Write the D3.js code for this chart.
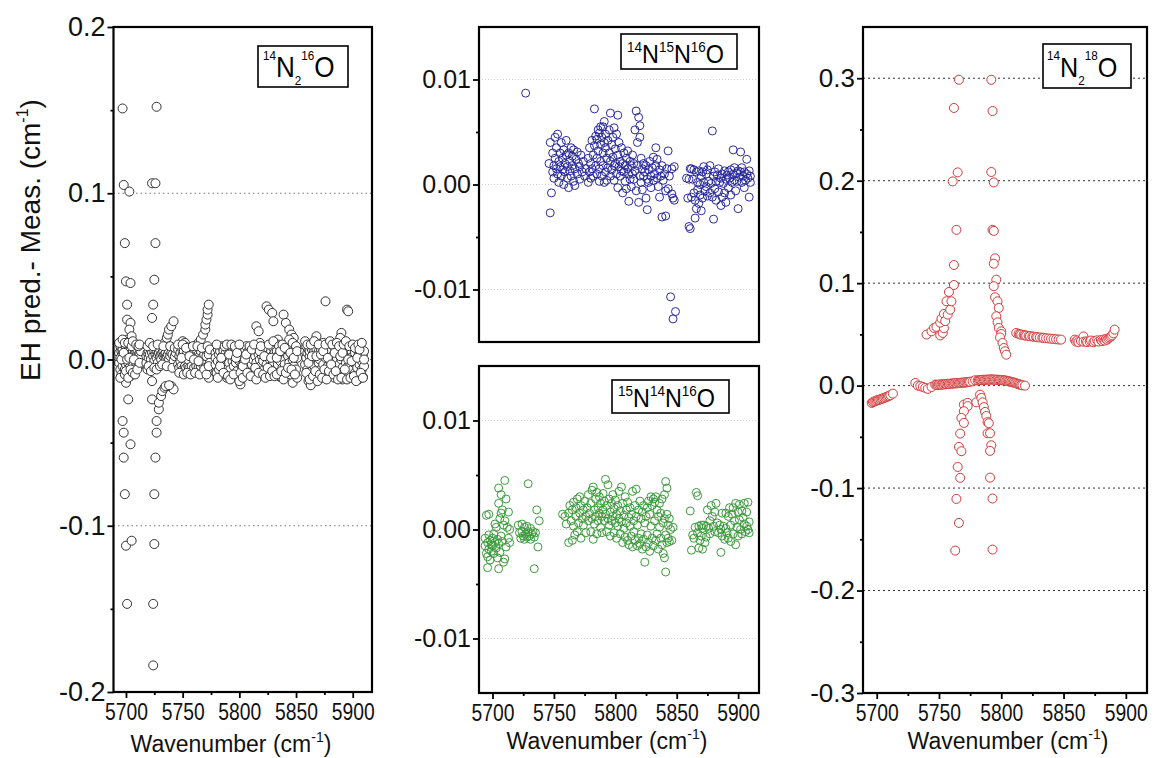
<!DOCTYPE html>
<html><head><meta charset="utf-8">
<script src="https://cdn.jsdelivr.net/npm/d3@7"></script>
<style>body{margin:0;background:#fff;} svg{display:block;font-family:Arial,"Liberation Sans",sans-serif;}</style>
</head><body><svg id="c" width="1154" height="758"></svg>
<script>
// ---------- shared axis values ----------
const xDomain = [5689, 5917];
const xTicks = [5700, 5750, 5800, 5850, 5900];
const xMinorTicks = [5725, 5775, 5825, 5875];
const xTitle = "Wavenumber (cm";
const yTitle = "EH pred.- Meas. (cm";

// panel 1: 14N2 16O
const p1YTicks = [-0.2, -0.1, 0, 0.1, 0.2];
const p1YLabels = ["-0.2", "-0.1", "0.0", "0.1", "0.2"];
const p1YMinor = [-0.15, -0.05, 0.05, 0.15];
const p1Grid = [-0.1, 0, 0.1];
// panels 2/3
const pmYTicks = [-0.01, 0, 0.01];
const pmYLabels = ["-0.01", "0.00", "0.01"];
const pmYMinor = [-0.005, 0.005];
const pmGrid = [-0.01, 0, 0.01];
// panel 4: 14N2 18O
const p4YTicks = [-0.3, -0.2, -0.1, 0, 0.1, 0.2, 0.3];
const p4YLabels = ["-0.3", "-0.2", "-0.1", "0.0", "0.1", "0.2", "0.3"];
const p4YMinor = [-0.25, -0.15, -0.05, 0.05, 0.15, 0.25];
const p4Grid = [-0.2, -0.1, 0, 0.1, 0.2, 0.3];

const labels = {
  p1: [["14","sup"],["N","n"],["2","sub"],["16","sup"],["O","n"]],
  p2: [["14","sup"],["N","n"],["15","sup"],["N","n"],["16","sup"],["O","n"]],
  p3: [["15","sup"],["N","n"],["14","sup"],["N","n"],["16","sup"],["O","n"]],
  p4: [["14","sup"],["N","n"],["2","sub"],["18","sup"],["O","n"]]
};

// ---------- data: [wavenumber, EH pred. - meas.] ----------
const n2o_14_16 = [
[5697,.151],[5727,.152],[5698,.105],[5703,.101],[5723,.106],[5726,.106],[5699,.070],[5726,.070],[5700,.047],[5704,.046],[5725,.048],[5701,.033],[5724,.033],[5723,.025],[5701,.024],[5704,.022],[5703,.018],
[5732,.007],[5734,.010],[5736,.013],[5737,.015],[5738,.018],[5740,.020],[5742,.023],
[5757,.006],[5761,.008],[5764,.010],[5766,.012],[5768,.015],[5770,.018],[5770,.021],[5771,.024],[5772,.027],[5772,.030],[5773,.033],
[5750,.011],[5752,.010],
[5815,.020],[5817,.017],[5824,.032],[5826,.030],[5829,.028],[5830,.023],[5839,.027],[5841,.022],[5844,.018],[5846,.015],[5848,.013],[5834,.012],[5831,.008],
[5876,.035],[5895,.030],[5896,.029],[5890,.016],[5889,.013],[5868,.014],
[5702,-.024],[5697,-.037],[5698,-.044],[5704,-.051],[5698,-.059],[5699,-.081],[5700,-.112],[5705,-.109],[5701,-.147],
[5723,-.013],[5723,-.024],[5727,-.037],[5727,-.044],[5726,-.059],[5725,-.081],[5725,-.111],[5724,-.147],[5724,-.184],
[5729,-.030],[5729,-.026],[5731,-.022],[5732,-.019],[5734,-.017],[5737,-.016],[5740,-.016],[5742,-.018],[5735,-.016],[5738,-.0155],
[5773,-.011],[5801,-.015],[5836,-.0105],[5847,-.014],[5861,-.013],[5863,-.0155],[5909,-.0105],[5905,-.012],[5891,-.012],[5880,-.009],[5789,-.011],
[5694,.004],[5694,-.002],[5695,.008],[5695,-.006],[5695,.001],[5696,.005],[5696,-.009],[5696,.011],[5697,.003],[5697,-.004],[5697,.006],[5698,-.001],[5698,.009],[5698,-.011],[5699,.004],[5699,.000],[5699,-.006],[5700,.007],[5700,.002],[5700,-.003],[5700,-.014],[5701,.005],[5701,-.008],[5701,.012],[5702,.003],[5702,-.002],[5702,.006],[5703,.004],[5703,-.005],[5703,.009],[5704,.002],[5704,.006],[5704,-.010],[5705,.004],[5705,-.001],[5705,.014],[5706,.005],[5706,-.003],[5707,.003],[5707,.008],[5707,-.006],[5708,.004],[5708,.001],[5709,.005],[5709,-.002],[5710,.003],[5710,.006],[5711,.002],[5711,-.004],[5712,.004],[5713,.001],[5713,.005],
[5694,.010],[5695,-.011],[5696,.000],[5697,.012],[5698,.004],[5699,-.009],[5699,.010],[5700,-.007],[5701,.000],[5702,-.011],[5702,.010],[5703,.001],[5704,-.006],[5705,.008],[5706,-.008],[5706,.011],[5707,.000],[5708,-.009],[5709,.009],[5710,-.006],[5711,.008],[5712,-.002],[5712,.009],
[5718,.002],[5718,-.002],[5719,.004],[5719,-.006],[5720,.001],[5720,.005],[5721,.003],[5721,-.003],[5722,.006],[5722,.000],[5723,.004],[5723,-.004],[5724,.002],[5725,.005],[5725,-.001],[5726,.003],[5726,.008],[5727,.001],[5727,.005],[5728,.003],[5728,-.002],[5729,.004],[5730,.002],[5730,.006],[5731,.003],[5731,.000],[5732,.004],[5733,.002],[5733,.005],[5734,.003],[5735,.001],[5735,.004],[5736,.002],[5737,.003],[5738,.005],[5738,.000],[5739,.002],[5740,.004],[5741,.003],[5742,-.001],[5743,.002],[5744,.004],
[5719,.008],[5720,-.004],[5721,.010],[5722,-.007],[5724,.008],[5725,-.005],[5727,-.006],[5728,.009],[5730,-.004],[5732,-.003],[5733,.008],[5736,-.004],[5739,.008],[5741,-.005],[5743,.007],
[5746,.006],[5746,-.003],[5747,.002],[5747,-.005],[5748,.004],[5748,-.001],[5749,.007],[5749,-.004],[5750,.003],[5750,-.006],[5751,.001],[5751,.005],[5752,-.004],[5752,.008],[5753,.002],[5753,-.005],[5754,.004],[5755,-.004],[5755,.000],[5756,.006],[5756,-.005],[5757,.002],[5758,-.004],[5758,.005],[5759,.001],[5760,-.005],[5760,.004],[5761,.002],[5762,-.004],[5762,.006],[5763,.000],[5764,-.005],[5764,.003],[5765,.002],[5766,-.004],[5766,.005],[5767,.001],[5768,-.003],[5768,-.008],[5769,.003],[5770,-.005],[5770,.006],[5771,.002],[5772,-.006],[5773,.003],[5774,-.002],
[5746,.009],[5747,-.008],[5749,.001],[5750,.009],[5751,-.009],[5753,.007],[5754,-.008],[5756,.002],[5757,-.009],[5759,.008],[5760,.000],[5761,-.008],[5763,.008],[5764,-.001],[5765,-.009],[5767,.007],[5769,-.006],[5771,-.009],[5772,.008],[5773,-.004],[5774,.006],
[5779,.004],[5779,-.003],[5779,.001],[5780,-.008],[5781,.006],[5781,-.001],[5782,.003],[5782,-.006],[5783,.005],[5784,-.002],[5784,.008],[5785,.002],[5785,-.005],[5786,.005],[5787,-.001],[5787,-.009],[5788,.004],[5788,.001],[5789,-.004],[5790,.006],[5790,.002],[5791,-.002],[5792,.005],[5792,-.006],[5793,.003],[5794,-.001],[5794,.007],[5795,.004],[5795,-.004],[5796,.001],[5797,.005],[5797,-.002],[5798,-.007],[5799,.003],[5799,.006],[5800,-.001],[5800,-.013],[5801,.004],[5802,.001],[5802,-.004],[5803,.006],[5804,.002],[5804,-.002],[5805,.005],[5806,-.005],[5806,.008],[5807,.003],[5808,-.001],[5808,.005],[5809,-.006],[5810,.002],[5810,.006],[5811,-.003],[5812,.004],[5812,.000],[5813,-.008],[5814,.005],[5814,.002],[5815,-.002],[5816,.006],[5816,-.005],[5817,.003],[5818,.000],[5818,.010],[5819,-.004],[5820,.005],[5820,.002],[5821,-.001],[5822,.007],[5822,-.006],[5823,.004],[5824,.001],[5824,-.003],[5825,.006],[5826,-.008],[5826,.003],[5827,.000],[5828,.005],[5828,-.004],[5829,.002],[5830,.007],[5830,-.002],[5831,.004],[5832,-.006],[5832,.001],[5833,.005],[5834,-.003],[5834,.009],[5835,.003],[5836,-.001],[5836,-.010],[5837,.005],[5838,.002],[5838,-.005],[5839,.006],[5840,.000],[5840,-.003],[5841,.004],[5842,.008],[5842,-.007],[5843,.002],[5844,.005],[5844,-.002],[5845,-.009],[5846,.003],[5846,.007],[5847,.000],[5848,-.004],[5848,.005],[5849,.002],[5850,-.006],[5850,.004],[5851,.001],[5851,-.011],
[5780,.009],[5781,-.011],[5783,-.004],[5784,.001],[5786,-.008],[5787,.008],[5789,.009],[5790,-.010],[5791,.003],[5792,-.012],[5793,.009],[5795,-.009],[5796,.008],[5797,.001],[5798,.004],[5800,.009],[5801,-.008],[5803,-.004],[5803,-.011],[5805,.000],[5806,.003],[5807,-.008],[5809,.008],[5810,-.010],[5811,.006],[5813,.009],[5814,-.005],[5815,-.012],[5817,-.008],[5818,.005],[5819,.008],[5821,-.009],[5822,.002],[5823,-.011],[5825,-.005],[5826,.009],[5827,-.010],[5828,.001],[5829,-.007],[5830,.011],[5831,-.010],[5833,-.009],[5833,.001],[5835,.008],[5836,.005],[5837,-.007],[5838,.009],[5839,-.012],[5840,.007],[5841,-.008],[5843,-.005],[5844,.012],[5845,.004],[5846,-.006],[5847,.010],[5848,.001],[5849,-.009],[5850,.008],[5851,.005],
[5858,.005],[5858,-.003],[5859,.008],[5859,.001],[5860,-.006],[5860,.004],[5861,.006],[5861,-.009],[5862,.002],[5862,.005],[5863,-.002],[5864,.006],[5864,-.007],[5865,.003],[5866,.005],[5866,-.004],[5867,.001],[5868,.006],[5868,-.011],[5869,.003],[5870,-.002],[5870,.005],[5871,.000],[5872,.006],[5872,-.006],[5873,.003],[5874,-.003],[5874,.010],[5875,.005],[5876,-.008],[5876,.001],[5877,.004],[5878,-.004],[5878,.007],[5879,.002],[5880,-.001],[5880,-.009],[5881,.005],[5882,-.005],[5882,.002],[5883,.008],[5884,-.002],[5884,-.011],[5885,.004],[5886,-.006],[5886,.001],[5887,.006],[5888,-.003],[5888,.003],[5889,-.008],[5890,.000],[5890,.007],[5891,-.005],[5892,.003],[5892,-.010],[5893,.005],[5894,-.002],[5894,-.007],[5895,.002],[5896,-.004],[5896,.006],[5897,-.009],[5898,.001],[5898,-.003],[5899,.005],[5900,-.006],[5900,.002],[5901,-.002],[5902,.004],[5902,-.008],[5903,.000],[5904,-.005],[5904,.006],[5905,.002],[5906,-.003],[5906,-.010],[5907,.004],[5908,-.001],[5908,-.006],[5909,.003],[5910,-.004],[5910,.005],
[5858,.011],[5859,-.008],[5860,.009],[5861,-.002],[5862,-.012],[5863,.009],[5864,.002],[5865,-.010],[5866,.011],[5867,-.007],[5868,.002],[5869,-.013],[5870,.009],[5871,-.009],[5872,.003],[5873,-.011],[5874,.005],[5875,-.006],[5876,.009],[5877,-.012],[5878,.001],[5879,-.007],[5880,.011],[5881,-.003],[5882,.009],[5883,-.009],[5884,.004],[5885,-.007],[5886,.010],[5887,-.012],[5888,.008],[5889,.002],[5890,-.011],[5891,.004],[5892,.009],[5893,-.006],[5894,.011],[5895,-.012],[5896,.000],[5897,.008],[5898,-.011],[5899,-.001],[5900,.009],[5901,-.010],[5902,.007],[5903,-.013],[5904,.001],[5905,.009],[5906,.006],[5907,-.008],[5908,.010],[5909,-.011],[5910,.000]
];

const n2o_14_15_16 = [
[5727,.0087],
[5747,-.0027],[5748,-.0008],[5746,.0020],[5747,.0040],[5749,.0012],[5749,.0030],[5750,.0018],[5750,.0006],[5751,.0025],[5751,.0045],[5752,.0015],[5752,.0035],[5753,.0010],[5753,.0048],[5754,.0022],[5754,.0002],[5755,.0030],[5755,.0017],[5756,.0040],[5756,.0008],[5757,.0025],[5757,.0014],[5758,.0000],[5758,.0033],[5759,.0020],[5759,.0012],[5760,.0042],[5760,.0028],[5761,.0017],[5761,.0006],[5762,.0030],[5762,-.0003],[5763,.0022],[5763,.0013],[5764,.0035],[5764,.0008],[5765,.0018],[5765,.0027],[5766,.0003],[5766,.0033],[5767,.0015],[5767,-.0001],[5768,.0024],[5769,.0010],[5769,.0031],[5770,.0020],[5771,.0005],[5771,.0017],[5772,.0028],[5773,.0012],[5774,.0022],[5775,.0008],[5776,.0015],
[5778,.0002],[5778,.0025],[5779,.0012],[5779,.0035],[5780,.0020],[5780,.0006],[5781,.0042],[5781,.0015],[5782,.0028],[5782,.0008],[5783,.0072],[5783,.0037],[5784,.0018],[5784,.0046],[5785,.0043],[5785,.0025],[5785,.0010],[5786,.0052],[5786,.0032],[5787,.0049],[5787,.0015],[5787,.0003],[5788,.0055],[5788,.0038],[5788,.0022],[5789,.0045],[5789,.0008],[5790,.0055],[5790,.0030],[5790,.0018],[5791,.0060],[5791,.0040],[5791,.0002],[5792,.0035],[5792,.0012],[5792,.0048],[5793,.0025],[5793,.0004],[5794,.0042],[5794,.0016],[5795,.0030],[5795,.0052],[5796,.0068],[5796,.0022],[5796,.0008],[5797,.0038],[5797,.0014],[5798,.0045],[5798,.0026],[5799,.0054],[5799,.0018],[5799,.0004],[5800,.0034],[5800,.0020],[5801,.0048],[5801,.0010],[5802,.0066],[5802,.0028],[5802,-.0003],[5803,.0040],[5803,.0017],[5804,.0022],[5804,.0008],[5805,.0035],[5805,.0013],[5806,.0020],[5806,-.0008],[5807,.0030],[5807,.0012],[5808,.0018],[5808,.0003],[5809,.0025],[5809,-.0004],[5810,.0015],[5810,.0032],[5811,-.0016],[5811,.0010],[5812,.0022],[5812,.0005],[5813,.0018],[5813,-.0002],[5814,.0028],[5814,.0010],[5815,.0005],[5815,.0020],[5816,.0052],[5816,.0013],[5817,.0070],[5817,-.0006],[5818,.0040],[5818,.0018],[5819,.0064],[5819,-.0017],[5820,.0056],[5820,.0045],[5820,.0008],[5821,.0025],[5821,.0002],[5822,.0015],[5822,-.0005],[5823,.0020],[5823,.0008],[5824,.0012],[5825,-.0013],[5825,.0018],[5826,-.0024],[5826,.0005],[5827,.0014],[5827,.0002],[5828,.0022],[5829,.0008],[5829,-.0003],[5830,.0016],[5831,.0026],[5831,.0004],[5832,.0010],[5833,.0035],[5833,.0018],[5834,.0006],[5834,.0024],[5835,-.0002],[5836,-.0012],[5836,.0014],[5837,.0008],[5838,-.0031],[5838,.0018],[5839,.0004],[5840,.0010],[5841,-.0030],[5841,-.0006],[5842,.0015],[5843,.0032],[5843,-.0004],[5844,.0008],[5845,-.0107],[5846,-.0009],[5846,.0015],[5847,-.0128],[5847,-.0013],[5848,-.0015],[5848,.0017],[5849,-.0121],
[5858,.0006],[5859,-.0013],[5860,-.0040],[5860,.0005],[5861,-.0042],[5861,.0015],[5862,-.0012],[5862,.0015],[5863,.0005],[5864,-.0008],[5864,.0014],[5865,-.0032],[5865,-.0015],[5866,.0012],[5866,-.0023],[5867,-.0005],[5867,.0002],[5868,-.0018],[5868,.0013],[5869,-.0010],[5869,.0000],[5870,.0008],[5870,-.0025],[5871,.0012],[5871,-.0013],[5872,.0002],[5872,.0017],[5873,-.0006],[5874,.0010],[5874,-.0002],[5875,.0014],[5875,-.0011],[5876,.0003],[5877,-.0008],[5877,.0018],[5878,.0001],[5879,.0051],[5879,-.0012],[5880,-.0033],[5880,.0008],[5881,-.0004],[5881,.0012],[5882,.0003],[5882,-.0015],[5883,.0009],[5884,-.0007],[5884,.0015],[5885,.0002],[5886,-.0020],[5886,.0006],[5887,-.0012],[5887,.0010],[5888,.0001],[5889,-.0008],[5889,.0013],[5890,.0005],[5890,-.0017],[5891,.0009],[5892,-.0003],[5892,.0012],[5893,.0006],[5894,.0014],[5894,-.0010],[5895,.0002],[5896,.0033],[5896,.0010],[5897,.0004],[5897,.0016],[5898,-.0006],[5899,.0011],[5899,.0003],[5900,-.0023],[5900,.0013],[5901,.0007],[5902,.0031],[5902,.0012],[5903,.0002],[5903,.0016],[5904,.0008],[5905,.0012],[5905,-.0003],[5906,.0004],[5907,.0024],[5907,.0010],[5908,.0006],[5909,-.0012],[5909,.0013],[5910,.0008],[5910,.0002]
];

const n2o_15_14_16 = [
[5696,-.0035],[5695,.0013],[5694,-.0015],[5694,-.0008],[5695,-.0022],[5696,-.0012],[5696,-.0025],[5697,-.0018],[5697,-.0005],[5697,.0014],[5698,-.0010],[5698,-.0028],[5699,-.0014],[5699,-.0020],[5700,-.0008],[5700,-.0015],[5701,-.0022],[5701,-.0004],[5702,.0005],[5702,-.0012],[5703,-.0017],[5703,.0002],[5704,-.0009],[5704,-.0026],[5705,.0024],[5705,-.0036],[5705,.0038],[5705,-.0013],[5706,.0010],[5706,-.0021],[5707,.0032],[5707,-.0006],[5707,.0015],[5708,.0018],[5708,-.0011],[5709,-.0030],[5709,.0004],[5710,.0045],[5710,-.0027],[5710,.0008],[5711,-.0016],[5711,.0028],[5712,.0002],[5713,.0016],[5713,-.0008],[5714,.0000],[5714,-.0012],
[5721,.0004],[5722,-.0003],[5723,-.0008],[5724,.0005],[5724,-.0002],[5725,-.0006],[5726,.0002],[5726,-.0009],[5727,-.0004],[5728,.0003],[5728,-.0007],[5729,.0042],[5729,-.0002],[5730,-.0006],[5731,.0001],[5731,-.0009],[5732,-.0004],[5733,-.0002],[5734,-.0036],[5734,-.0007],[5735,-.0003],[5736,.0018],[5737,-.0016],[5738,.0008],
[5757,.0014],[5759,.0012],[5760,.0005],[5762,-.0012],[5762,.0015],[5763,.0022],[5764,.0008],[5765,-.0010],[5765,.0018],[5766,.0025],[5766,.0003],[5767,-.0005],[5768,.0012],[5768,.0020],[5769,.0028],[5769,-.0002],[5770,.0006],[5771,.0015],[5771,.0030],[5772,-.0008],[5772,.0022],[5773,.0010],[5774,.0004],[5774,.0018],[5775,.0026],[5776,.0012],[5776,-.0003],[5777,.0020],[5778,.0008],[5778,.0032],[5779,.0015],[5780,-.0002],[5780,.0024],[5781,.0036],[5781,.0010],[5782,-.0009],[5782,.0039],[5783,.0018],[5783,.0005],[5784,.0028],[5784,.0012],[5785,.0034],[5785,-.0004],[5786,.0020],[5786,.0008],[5787,.0030],[5787,.0015],[5788,.0002],[5788,.0024],[5789,.0012],[5789,-.0003],[5790,.0033],[5790,.0018],[5791,.0008],[5791,.0026],[5792,.0046],[5792,.0014],[5793,-.0002],[5793,.0022],[5794,.0041],[5794,.0010],[5795,.0028],[5795,.0004],[5796,.0016],[5796,-.0006],[5797,.0024],[5797,.0008],[5798,.0032],[5798,.0012],[5799,-.0003],[5799,.0019],[5800,.0006],[5800,.0027],[5801,.0014],[5801,-.0008],[5802,.0022],[5802,.0003],[5803,.0035],[5803,.0010],[5804,-.0004],[5804,.0017],[5805,.0039],[5805,.0007],[5806,.0024],[5806,-.0012],[5807,.0013],[5807,.0001],[5808,.0030],[5808,-.0007],[5809,.0018],[5809,.0006],[5810,-.0010],[5810,.0025],[5811,-.0014],[5811,.0011],[5812,.0003],[5812,.0020],[5813,-.0006],[5813,.0014],[5814,.0035],[5814,-.0016],[5815,.0008],[5815,-.0002],[5816,.0022],[5816,-.0010],[5817,.0037],[5817,.0012],[5818,-.0015],[5818,.0004],[5819,.0018],[5819,-.0008],[5820,.0026],[5820,-.0013],[5821,.0010],[5821,-.0004],[5822,.0016],[5822,-.0018],[5823,.0022],[5823,-.0009],[5824,-.0030],[5824,.0006],[5825,.0012],[5825,-.0016],[5826,.0020],[5826,-.0005],[5827,.0026],[5827,-.0012],[5828,.0014],[5828,-.0020],[5829,.0030],[5829,.0003],[5830,.0022],[5830,-.0008],[5831,.0028],[5831,-.0015],[5832,.0025],[5832,.0008],[5833,.0030],[5833,-.0010],[5834,.0018],[5834,-.0004],[5835,.0012],[5835,-.0018],[5836,.0024],[5836,.0002],[5837,-.0008],[5837,.0015],[5838,.0028],[5838,-.0014],[5839,.0006],[5839,-.0022],[5840,.0032],[5840,-.0026],[5840,.0010],[5841,.0044],[5841,-.0039],[5841,-.0005],[5842,.0038],[5842,.0014],[5842,-.0012],[5843,-.0008],[5843,.0004],[5844,.0010],[5844,-.0011],[5845,.0000],[5846,-.0010],[5847,.0002],
[5861,.0017],[5862,-.0019],[5863,-.0005],[5864,-.0008],[5865,.0002],[5866,.0034],[5867,.0031],[5867,-.0003],[5868,-.0017],[5868,.0003],[5869,-.0010],[5870,.0004],[5870,-.0006],[5871,-.0018],[5871,.0001],[5872,.0004],[5873,-.0012],[5874,.0003],[5874,-.0007],[5875,.0018],[5876,.0001],[5877,.0008],[5877,-.0004],[5878,.0022],[5879,.0012],[5880,.0003],[5881,.0016],[5881,-.0002],[5882,.0024],[5883,.0006],[5884,-.0003],[5885,.0004],[5886,-.0021],[5886,.0000],[5887,.0015],[5887,-.0006],[5888,.0003],[5889,-.0009],[5890,.0015],[5890,.0001],[5891,-.0003],[5892,.0012],[5892,-.0008],[5893,.0020],[5894,.0004],[5894,-.0011],[5895,.0014],[5896,.0020],[5896,-.0004],[5897,.0008],[5898,.0024],[5898,-.0014],[5899,.0002],[5900,.0016],[5900,-.0006],[5901,.0023],[5901,.0009],[5902,.0000],[5903,.0017],[5903,-.0004],[5904,.0011],[5905,.0024],[5905,.0005],[5906,-.0002],[5907,.0016],[5907,.0003],[5908,.0025],[5908,.0000],[5909,.0007],[5909,-.0003]
];

const n2o_14_18 = [
[5696,-.0169],[5697,-.0160],[5698,-.0155],[5699,-.0150],[5700,-.0145],[5701,-.0140],[5702,-.0138],[5703,-.0133],[5704,-.0128],[5705,-.0125],[5706,-.0120],[5707,-.0115],[5708,-.0110],[5709,-.0105],[5710,-.0100],[5711,-.0093],[5713,-.0078],
[5731,.0026],[5733,.0000],[5735,-.0005],[5737,-.0013],[5739,-.0022],[5741,-.0032],[5744,-.0013],[5747,.0010],[5748,.0008],[5749,.0005],[5750,.0010],[5751,.0012],[5752,.0008],[5753,.0014],[5754,.0011],[5755,.0016],[5756,.0014],[5757,.0018],[5758,.0016],[5759,.0020],[5760,.0018],[5761,.0022],[5762,.0020],[5763,.0024],[5764,.0022],[5765,.0026],[5766,.0025],[5767,.0028],[5768,.0027],[5769,.0030],[5770,.0029],[5771,.0032],[5772,.0031],[5773,.0034],[5774,.0036],[5775,.0038],[5777,.0042],[5779,.0052],[5781,.0050],[5782,.0053],[5783,.0055],[5784,.0054],[5785,.0057],[5786,.0056],[5787,.0058],[5788,.0057],[5789,.0059],[5790,.0058],[5791,.0060],[5792,.0059],[5793,.0060],[5794,.0058],[5795,.0059],[5796,.0057],[5797,.0058],[5798,.0055],[5799,.0056],[5800,.0053],[5801,.0054],[5802,.0050],[5803,.0051],[5804,.0047],[5805,.0045],[5806,.0042],[5807,.0040],[5808,.0036],[5809,.0033],[5810,.0030],[5811,.0026],[5812,.0022],[5813,.0018],[5814,.0014],[5815,.0010],[5816,.0006],[5817,.0003],[5819,.0000],
[5740,.0498],[5744,.0530],[5746,.0563],[5748,.0573],[5751,.0490],[5753,.0514],[5754,.0560],[5751,.0615],[5752,.0654],[5754,.0700],[5755,.0630],[5757,.0693],[5759,.0741],[5756,.0823],[5760,.0823],[5758,.0914],[5762,.0982],[5762,.1177],[5764,.1520],[5761,.1993],[5765,.2081],[5762,.2710],[5766,.2985],
[5792,.2985],[5793,.2680],[5792,.2085],[5794,.1983],[5793,.1520],[5794,.1510],[5795,.1242],[5794,.1190],[5796,.1034],[5794,.0970],[5795,.0862],[5797,.0823],[5798,.0758],[5796,.0677],[5797,.0618],[5798,.0563],[5800,.0530],[5800,.0504],[5799,.0470],[5801,.0416],[5802,.0367],[5803,.0335],[5804,.0302],
[5812,.0514],[5814,.0505],[5815,.0500],[5816,.0498],[5818,.0495],[5819,.0490],[5820,.0488],[5822,.0485],[5823,.0482],[5825,.0480],[5826,.0477],[5828,.0475],[5829,.0472],[5831,.0470],[5833,.0468],[5834,.0466],[5836,.0463],[5838,.0460],[5840,.0458],[5842,.0455],[5844,.0452],[5846,.0450],[5848,.0449],
[5859,.0449],[5860,.0430],[5861,.0440],[5862,.0425],[5864,.0435],[5866,.0480],[5866,.0428],[5868,.0432],[5869,.0425],[5871,.0430],[5872,.0440],[5874,.0423],[5875,.0436],[5877,.0442],[5878,.0430],[5880,.0445],[5881,.0435],[5882,.0450],[5883,.0440],[5884,.0455],[5885,.0448],[5886,.0460],[5887,.0470],[5888,.0480],[5889,.0490],[5890,.0510],[5891,.0546],
[5770,-.0185],[5773,-.0169],[5773,-.0200],[5770,-.0250],[5768,-.0315],[5770,-.0364],[5767,-.0468],[5766,-.0598],[5768,-.0640],[5765,-.0794],[5767,-.0900],[5764,-.1106],[5766,-.1340],[5763,-.1610],
[5780,-.0163],[5783,-.0088],[5784,-.0120],[5785,-.0163],[5786,-.0210],[5787,-.0257],[5788,-.0296],[5789,-.0355],[5790,-.0367],[5789,-.0465],[5791,-.0465],[5792,-.0582],[5791,-.0637],[5791,-.0898],[5793,-.1102],[5793,-.1600]
];

// ---------- layout ----------
const svg = d3.select("#c");
const panels = [
  {data:n2o_14_16, L:113.5,R:372,T:27,B:692, yDom:[-0.2,0.2], yT:p1YTicks, yL:p1YLabels, yM:p1YMinor, grid:p1Grid,
   gc:"#777", gd:"1.5,3", r:4.5, stroke:"#333", fill:"#fff", xAxis:true, yFont:27,
   title:{x:231,y:752}, box:{x:258,y:46,w:90,h:41}, lab:{seg:labels.p1,x:263,y:77,big:29,small:13,raise:17,drop:8}},
  {data:n2o_14_15_16, L:479,R:759,T:27,B:342, yDom:[-0.015,0.015], yT:pmYTicks, yL:pmYLabels, yM:pmYMinor, grid:pmGrid,
   gc:"#d0d0d0", gd:"1,2", r:4, stroke:"#2a2a9c", fill:"none", xAxis:false, yFont:25,
   box:{x:621,y:34,w:116,h:35}, lab:{seg:labels.p2,x:627,y:63,big:26,small:15,raise:11,drop:6}},
  {data:n2o_15_14_16, L:479,R:759,T:366,B:693, yDom:[-0.015,0.015], yT:pmYTicks, yL:pmYLabels, yM:pmYMinor, grid:pmGrid,
   gc:"#d0d0d0", gd:"1,2", r:4, stroke:"#3c9a3c", fill:"none", xAxis:true, yFont:25,
   title:{x:607,y:749}, box:{x:612,y:380,w:117,h:33}, lab:{seg:labels.p3,x:618,y:407,big:26,small:15,raise:11,drop:6}},
  {data:n2o_14_18, L:863,R:1147,T:27,B:693, yDom:[-0.3,0.35], yT:p4YTicks, yL:p4YLabels, yM:p4YMinor, grid:p4Grid,
   gc:"#333", gd:"2,3", r:4.5, stroke:"#d23a3a", fill:"#fff", xAxis:true, yFont:26,
   title:{x:1008,y:749}, box:{x:1043,y:44,w:88,h:44}, lab:{seg:labels.p4,x:1047,y:77,big:28,small:13,raise:17,drop:8}}
];

function drawLabel(g, p){
  const b = p.box, l = p.lab;
  g.append("rect").attr("x",b.x).attr("y",b.y).attr("width",b.w).attr("height",b.h)
    .attr("fill","#fff").attr("stroke","#000").attr("stroke-width",1.6);
  const t = g.append("text").attr("transform",`translate(${l.x},${l.y}) scale(0.9,1)`).attr("fill","#000");
  let cur = 0;
  l.seg.forEach(s=>{
    const off = s[1]==="sup" ? -l.raise : s[1]==="sub" ? l.drop : 0;
    t.append("tspan").attr("dy", off-cur).attr("font-size", s[1]==="n"?l.big:l.small).text(s[0]);
    cur = off;
  });
}

panels.forEach(p=>{
  const g = svg.append("g");
  const x = d3.scaleLinear().domain(xDomain).range([p.L,p.R]);
  const y = d3.scaleLinear().domain(p.yDom).range([p.B,p.T]);
  g.selectAll(".grid").data(p.grid).join("line")
    .attr("x1",p.L).attr("x2",p.R).attr("y1",d=>y(d)).attr("y2",d=>y(d))
    .attr("stroke",p.gc).attr("stroke-width",1).attr("stroke-dasharray",p.gd);
  g.append("g").selectAll("circle").data(p.data).join("circle")
    .attr("cx",d=>x(d[0])).attr("cy",d=>y(d[1])).attr("r",p.r)
    .attr("fill",p.fill).attr("stroke",p.stroke).attr("stroke-width",1);
  g.append("rect").attr("x",p.L).attr("y",p.T).attr("width",p.R-p.L).attr("height",p.B-p.T)
    .attr("fill","none").attr("stroke","#000").attr("stroke-width",2.2);
  const ya = g.append("g").attr("transform",`translate(${p.L},0)`)
    .call(d3.axisLeft(y).tickValues(p.yT).tickFormat((d,i)=>p.yL[i]).tickSize(6).tickPadding(2));
  ya.select(".domain").remove();
  ya.selectAll("line").attr("stroke","#000").attr("stroke-width",1.8);
  ya.selectAll("text").attr("font-size",p.yFont).attr("font-family","Arial, 'Liberation Sans', sans-serif").attr("fill","#111");
  const ym = g.append("g").attr("transform",`translate(${p.L},0)`)
    .call(d3.axisLeft(y).tickValues(p.yM).tickFormat("").tickSize(3));
  ym.select(".domain").remove();
  ym.selectAll("line").attr("stroke","#000").attr("stroke-width",1.8);
  if(p.xAxis){
    const xa = g.append("g").attr("transform",`translate(0,${p.B})`)
      .call(d3.axisBottom(x).tickValues(xTicks).tickFormat(d3.format("d")).tickSize(6).tickPadding(6));
    xa.select(".domain").remove();
    xa.selectAll("line").attr("stroke","#000").attr("stroke-width",1.8);
    xa.selectAll("text").attr("font-size",23).attr("font-family","Arial, 'Liberation Sans', sans-serif")
      .attr("fill","#111").attr("transform","scale(0.84,1)");
    const xm = g.append("g").attr("transform",`translate(0,${p.B})`)
      .call(d3.axisBottom(x).tickValues(xMinorTicks).tickFormat("").tickSize(3));
    xm.select(".domain").remove();
    xm.selectAll("line").attr("stroke","#000").attr("stroke-width",1.8);
    const t = g.append("text").attr("x",p.title.x).attr("y",p.title.y).attr("text-anchor","middle")
      .attr("font-size",23).attr("fill","#111");
    t.append("tspan").text(xTitle);
    t.append("tspan").attr("font-size",14).attr("dy",-10).text("-1");
    t.append("tspan").attr("dy",10).text(")");
  }
  drawLabel(g,p);
});

const yt = svg.append("text").attr("transform","translate(40,240) rotate(-90)")
  .attr("text-anchor","middle").attr("font-size",28).attr("fill","#111");
yt.append("tspan").text(yTitle);
yt.append("tspan").attr("font-size",16).attr("dy",-12).text("-1");
yt.append("tspan").attr("dy",12).text(")");
</script></body></html>
